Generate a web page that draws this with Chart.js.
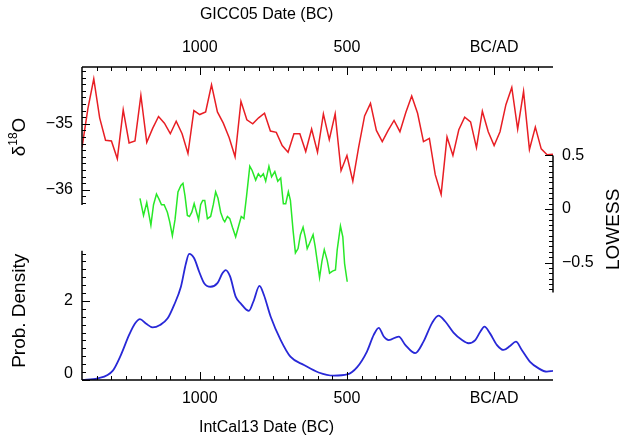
<!DOCTYPE html>
<html>
<head>
<meta charset="utf-8">
<script src="https://cdn.jsdelivr.net/npm/chart.js@4.4.1/dist/chart.umd.min.js"></script>
<style>
  html, body { margin: 0; padding: 0; background: #fff; }
</style>
</head>
<body>
<canvas id="chart" width="622" height="439"></canvas>
<script>
// years are CE (negative = BC)
const isoYears = [
  -1400, -1380, -1360, -1340, -1320, -1300, -1280, -1260, -1240, -1220,
  -1200, -1180, -1160, -1140, -1120, -1100, -1080, -1060, -1040, -1020,
  -1000, -980, -960, -940, -920, -900, -880, -860, -840, -820,
  -800, -780, -760, -740, -720, -700, -680, -660, -640, -620,
  -600, -580, -560, -540, -520, -500, -480, -460, -440, -420,
  -400, -380, -360, -340, -320, -300, -280, -260, -240, -220,
  -200, -180, -160, -140, -120, -100, -80, -60, -40, -20,
  0, 20, 40, 60, 80, 100, 120, 140, 160, 180,
  200
];
const isoValues = [
  -35.36, -34.77, -34.32, -34.91, -35.25, -35.26, -35.53, -34.79, -35.29, -35.26,
  -34.57, -35.28, -35.07, -34.89, -34.99, -35.15, -34.96, -35.15, -35.45, -34.80,
  -34.86, -34.82, -34.41, -34.82, -34.99, -35.21, -35.50, -34.66, -34.94, -35.00,
  -34.91, -34.84, -35.11, -35.13, -35.33, -35.43, -35.15, -35.15, -35.42, -35.08,
  -35.43, -34.85, -35.24, -34.85, -35.71, -35.48, -35.87, -35.35, -34.88, -34.69,
  -35.10, -35.27, -35.10, -34.95, -35.12, -34.83, -34.58, -34.84, -35.27, -35.22,
  -35.77, -36.07, -35.20, -35.48, -35.09, -34.90, -34.97, -35.36, -34.81, -35.12,
  -35.33, -35.12, -34.71, -34.45, -35.08, -34.51, -35.39, -35.05, -35.38, -35.47,
  -35.46
];

const lowessYears = [
  -1203, -1191, -1180, -1166, -1157, -1147, -1138, -1130, -1121, -1110,
  -1102, -1093, -1084, -1074, -1064, -1057, -1050, -1042, -1035, -1027,
  -1019, -1010, -1004, -997, -990, -983, -974, -963, -954, -946,
  -938, -929, -920, -915, -906, -898, -889, -878, -867, -859,
  -850, -841, -830, -822, -810, -801, -793, -784, -776, -765,
  -756, -745, -735, -725, -716, -708, -699, -692, -683, -675,
  -666, -658, -649, -641, -635, -627, -615, -608, -593, -585,
  -577, -567, -559, -549, -539, -533, -522, -514, -508, -499
];
const lowessValues = [
  0.10, -0.06, 0.06, -0.15, 0.04, 0.14, 0.09, 0.04, 0.04, -0.03,
  -0.12, -0.25, -0.10, 0.16, 0.22, 0.24, 0.12, -0.06, -0.07, -0.03,
  0.05, -0.04, -0.10, 0.04, 0.08, 0.08, -0.09, -0.07, 0.04, 0.16,
  0.10, -0.03, -0.10, -0.12, -0.07, -0.09, -0.17, -0.26, -0.15, -0.07,
  -0.09, 0.12, 0.40, 0.36, 0.27, 0.33, 0.30, 0.33, 0.26, 0.40,
  0.30, 0.35, 0.26, 0.29, 0.05, 0.05, 0.16, 0.08, -0.20, -0.41,
  -0.37, -0.24, -0.17, -0.27, -0.37, -0.32, -0.24, -0.35, -0.64, -0.49,
  -0.38, -0.48, -0.60, -0.58, -0.57, -0.38, -0.16, -0.26, -0.51, -0.68
];

const densityYears = [
  -1400, -1347, -1296, -1268, -1240, -1220, -1203, -1183, -1160, -1135,
  -1109, -1087, -1064, -1047, -1036, -1019, -1002, -985, -963, -940,
  -923, -912, -897, -878, -861, -833, -818, -797, -782, -759,
  -725, -692, -646, -596, -545, -499, -466, -432, -409, -392,
  -375, -358, -324, -302, -268, -240, -211, -189, -166, -138,
  -109, -87, -64, -47, -33, -14, 9, 32, 54, 74,
  94, 122, 150, 179, 200
];
const densityValues = [
  0.00, 0.04, 0.23, 0.63, 1.14, 1.43, 1.54, 1.43, 1.33, 1.39,
  1.56, 1.90, 2.36, 2.95, 3.19, 3.08, 2.74, 2.45, 2.36, 2.45,
  2.70, 2.78, 2.62, 2.11, 1.94, 1.75, 1.98, 2.38, 2.15, 1.60,
  1.01, 0.59, 0.38, 0.19, 0.11, 0.14, 0.32, 0.72, 1.14, 1.32,
  1.10, 1.01, 1.10, 0.89, 0.68, 0.97, 1.44, 1.63, 1.48, 1.20,
  1.01, 0.93, 1.01, 1.22, 1.35, 1.18, 0.89, 0.76, 0.86, 0.97,
  0.76, 0.46, 0.30, 0.21, 0.23
];

const xTickYears = [-1000, -500, 0];
const xTickLabels = ['1000', '500', 'BC/AD'];
const isoTicks = [-35, -36];
const isoTickLabels = ['\u221235', '\u221236'];
const densityTicks = [0, 2];
const densityTickLabels = ['0', '2'];
const lowessTicks = [0.5, 0, -0.5];
const lowessTickLabels = ['0.5', '0', '\u22120.5'];

const RED = 'rgb(232, 30, 36)';
const GREEN = 'rgb(40, 232, 40)';
const BLUE = 'rgb(40, 40, 215)';
const FONT = '"Liberation Sans", Arial, Helvetica, sans-serif';

function toPoints(xs, ys) {
  return xs.map((x, i) => ({ x, y: ys[i] }));
}

function range(from, to, step) {
  const out = [];
  const n = Math.round((to - from) / step);
  for (let i = 0; i <= n; i += 1) out.push(+(from + i * step).toFixed(4));
  return out;
}

function isMajor(v, majors) {
  return majors.some((m) => Math.abs(m - v) < 1e-6);
}

function line(ctx, x1, y1, x2, y2) {
  ctx.beginPath();
  ctx.moveTo(x1, y1);
  ctx.lineTo(x2, y2);
  ctx.stroke();
}

function text(ctx, str, x, y, align, size) {
  ctx.font = `${size}px ${FONT}`;
  ctx.textAlign = align;
  ctx.textBaseline = 'middle';
  ctx.fillText(str, x, y);
}

function rotatedText(ctx, x, y, draw) {
  ctx.save();
  ctx.translate(x, y);
  ctx.rotate(-Math.PI / 2);
  draw();
  ctx.restore();
}

// one vertical axis piece: line between `from` and `to`, ticks pointing inward
function drawYAxis(ctx, scale, xPos, from, to, minorTicks, majors, dir) {
  ctx.lineWidth = 1.5;
  line(ctx, xPos, scale.getPixelForValue(from), xPos, scale.getPixelForValue(to));
  ctx.lineWidth = 1;
  minorTicks.forEach((v) => {
    const py = Math.round(scale.getPixelForValue(v)) + 0.5;
    const len = isMajor(v, majors) ? 8 : 4;
    line(ctx, xPos, py, xPos + dir * len, py);
  });
}

const paperAxes = {
  id: 'paperAxes',
  afterDatasetsDraw(chart) {
    const { ctx, chartArea: area, scales } = chart;
    const x = scales.x;
    ctx.save();
    ctx.strokeStyle = '#000';
    ctx.fillStyle = '#000';

    // top and bottom time axes
    ctx.lineWidth = 1.5;
    line(ctx, area.left, area.top, area.right, area.top);
    line(ctx, area.left, area.bottom, area.right, area.bottom);
    ctx.lineWidth = 1;
    range(-1350, 150, 50).forEach((v) => {
      const px = Math.round(x.getPixelForValue(v)) + 0.5;
      const len = isMajor(v, xTickYears) ? 8 : 4;
      line(ctx, px, area.top, px, area.top + len);
      line(ctx, px, area.bottom, px, area.bottom - len);
    });
    xTickYears.forEach((v, i) => {
      const px = x.getPixelForValue(v);
      text(ctx, xTickLabels[i], px, area.top - 19, 'center', 16);
      text(ctx, xTickLabels[i], px, area.bottom + 19, 'center', 16);
    });
    const titleX = x.getPixelForValue(-773);
    text(ctx, 'GICC05 Date (BC)', titleX, area.top - 52, 'center', 16);
    text(ctx, 'IntCal13 Date (BC)', titleX, area.bottom + 48, 'center', 16);

    // d18O axis (upper left)
    const yIso = scales.yIso;
    drawYAxis(ctx, yIso, area.left, yIso.max, -36.23, range(-36.2, -34.2, 0.1), isoTicks, 1);
    isoTicks.forEach((v, i) => {
      text(ctx, isoTickLabels[i], area.left - 9, yIso.getPixelForValue(v), 'right', 16);
    });
    rotatedText(ctx, area.left - 62, yIso.getPixelForValue(-35.2), () => {
      ctx.font = `19px ${FONT}`;
      const wd = ctx.measureText('\u03b4').width;
      const wo = ctx.measureText('O').width;
      ctx.font = `12px ${FONT}`;
      const ws = ctx.measureText('18').width;
      const start = -(wd + ws + wo) / 2;
      ctx.textAlign = 'left';
      ctx.textBaseline = 'middle';
      ctx.font = `19px ${FONT}`;
      ctx.fillText('\u03b4', start, 0);
      ctx.fillText('O', start + wd + ws, 0);
      ctx.font = `12px ${FONT}`;
      ctx.fillText('18', start + wd, -6);
    });

    // probability density axis (lower left)
    const yDen = scales.yDen;
    drawYAxis(ctx, yDen, area.left, 0, 3.27, range(0, 3.2, 0.2), densityTicks, 1);
    densityTicks.forEach((v, i) => {
      const py = Math.min(yDen.getPixelForValue(v), area.bottom - 6);
      text(ctx, densityTickLabels[i], area.left - 9, py, 'right', 16);
    });
    rotatedText(ctx, area.left - 62, yDen.getPixelForValue(1.75), () => {
      text(ctx, 'Prob. Density', 0, 0, 'center', 19);
    });

    // LOWESS axis (right)
    const yLow = scales.yLow;
    drawYAxis(ctx, yLow, area.right, 0.5, -0.78, range(-0.75, 0.5, 0.05), lowessTicks, -1);
    lowessTicks.forEach((v, i) => {
      text(ctx, lowessTickLabels[i], area.right + 9, yLow.getPixelForValue(v), 'left', 16);
    });
    rotatedText(ctx, area.right + 61, yLow.getPixelForValue(-0.19), () => {
      text(ctx, 'LOWESS', 0, 0, 'center', 19);
    });

    ctx.restore();
  }
};

new Chart(document.getElementById('chart'), {
  type: 'line',
  data: {
    datasets: [
      {
        label: 'd18O',
        data: toPoints(isoYears, isoValues),
        xAxisID: 'x',
        yAxisID: 'yIso',
        borderColor: RED,
        borderWidth: 1.5,
        pointRadius: 0,
        tension: 0
      },
      {
        label: 'LOWESS',
        data: toPoints(lowessYears, lowessValues),
        xAxisID: 'x',
        yAxisID: 'yLow',
        borderColor: GREEN,
        borderWidth: 1.5,
        pointRadius: 0,
        tension: 0
      },
      {
        label: 'Prob. Density',
        data: toPoints(densityYears, densityValues),
        xAxisID: 'x',
        yAxisID: 'yDen',
        borderColor: BLUE,
        borderWidth: 1.8,
        pointRadius: 0,
        cubicInterpolationMode: 'monotone'
      }
    ]
  },
  options: {
    responsive: false,
    animation: false,
    layout: { padding: { left: 82, right: 69, top: 67, bottom: 59 } },
    plugins: { legend: { display: false }, tooltip: { enabled: false } },
    scales: {
      x: { type: 'linear', min: -1400, max: 200, display: false },
      yIso: { type: 'linear', min: -38.88, max: -34.14, display: false },
      yDen: { type: 'linear', min: 0, max: 7.92, display: false },
      yLow: { type: 'linear', min: -1.598, max: 1.327, display: false }
    }
  },
  plugins: [paperAxes]
});
</script>
</body>
</html>
